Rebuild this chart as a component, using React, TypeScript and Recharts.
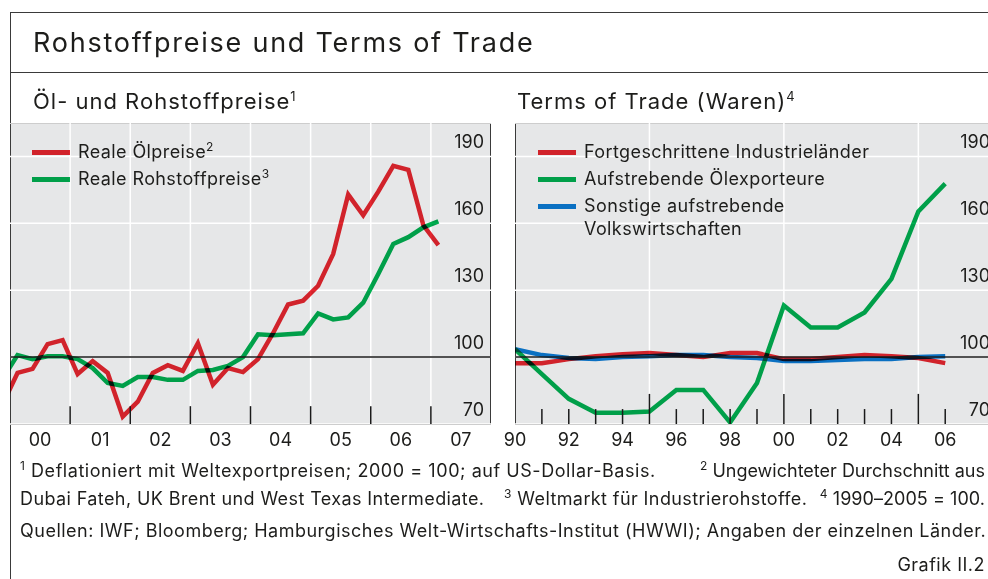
import React from "react";
import { LineChart, Line, XAxis, YAxis, CartesianGrid, ReferenceLine, Legend } from "recharts";

// Öl- und Rohstoffpreise, quarterly (2000 = 100)
const quarters = [
    "1999Q4",
    "2000Q1", "2000Q2", "2000Q3", "2000Q4",
    "2001Q1", "2001Q2", "2001Q3", "2001Q4",
    "2002Q1", "2002Q2", "2002Q3", "2002Q4",
    "2003Q1", "2003Q2", "2003Q3", "2003Q4",
    "2004Q1", "2004Q2", "2004Q3", "2004Q4",
    "2005Q1", "2005Q2", "2005Q3", "2005Q4",
    "2006Q1", "2006Q2", "2006Q3", "2006Q4",
    "2007Q1",
];
const realOilPrices = [
    78.7,
    92.9, 94.7, 105.8, 107.6,
    92.4, 98.2, 92.9, 73.3,
    80.0, 92.9, 96.4, 93.8,
    106.2, 87.6, 95.1, 93.3,
    99.1, 110.7, 123.6, 125.3,
    132.0, 146.2, 172.9, 163.6,
    174.2, 185.8, 184.0, 159.1,
    150.2,
];
const realCommodityPrices = [
    90.2,
    100.9, 99.1, 100.4, 100.4,
    99.1, 95.1, 88.4, 87.1,
    91.1, 91.1, 89.8, 89.8,
    93.8, 94.2, 96.0, 100.0,
    110.2, 109.8, 110.2, 110.7,
    119.6, 116.9, 117.8, 124.4,
    137.3, 150.7, 153.8, 158.2,
    160.9,
];

// Terms of Trade (Waren), annual (1990–2005 = 100)
const years = [1990, 1991, 1992, 1993, 1994, 1995, 1996, 1997, 1998, 1999, 2000, 2001, 2002, 2003, 2004, 2005, 2006];
const advancedEconomies = [97.3, 97.3, 99.1, 100.4, 101.3, 101.8, 100.9, 100.0, 101.8, 101.8, 99.1, 99.1, 100.0, 100.9, 100.4, 99.6, 97.3];
const oilExporters = [103.6, 92.4, 81.3, 75.1, 75.1, 75.6, 85.3, 85.3, 70.7, 88.4, 123.1, 113.3, 113.3, 120.0, 135.1, 165.3, 177.8];
const otherEmerging = [103.6, 100.9, 99.6, 99.1, 100.0, 100.4, 100.9, 100.9, 100.0, 99.6, 98.2, 98.2, 98.7, 99.1, 99.1, 100.0, 100.4];

// axes
const yTicks = [70, 100, 130, 160, 190];
const priceYearLabels = [2000, 2001, 2002, 2003, 2004, 2005, 2006, 2007];
const priceYearBoundaries = [2001, 2002, 2003, 2004, 2005, 2006, 2007];
const totYearLabels = [1990, 1992, 1994, 1996, 1998, 2000, 2002, 2004, 2006];
const totMinorTicks = [1991, 1992, 1993, 1994, 1996, 1997, 1998, 1999, 2001, 2002, 2003, 2004, 2006];
const totMajorTicks = [1995, 2000, 2005];

const FONT = "Inter, 'Liberation Sans', Arial, sans-serif";
const INK = "#1d1d1b";
const FRAME = "#3a3a3a";
const PANEL = "#e6e7e8";
const RED = "#e8262f";
const GREEN = "#00b050";
const BLUE = "#0b7cd6";

const quarterToNumber = (q: string) => Number(q.slice(0, 4)) + (Number(q.slice(5)) - 0.5) / 4;
const yy = (v: number) => String(Math.floor(v) % 100).padStart(2, "0");

const priceData = quarters.map((q, i) => ({
    t: quarterToNumber(q),
    oil: realOilPrices[i],
    commodities: realCommodityPrices[i],
}));

const totData = years.map((y, i) => ({
    year: y,
    advanced: advancedEconomies[i],
    oil: oilExporters[i],
    other: otherEmerging[i],
}));

const YTick = ({ x, y, payload }: any) => (
    <text x={x} y={y - 15} textAnchor="end" dominantBaseline="central" fontSize={18} fill={INK} fontFamily={FONT}>
        {payload.value}
    </text>
);

// legend keeps the series order given in `order` (recharts sorts by name otherwise)
const LegendBox = ({ payload, order, notes }: any) => {
    const items = order.map((k: string) => (payload || []).find((p: any) => p.dataKey === k)).filter(Boolean);
    return (
        <div style={{ fontFamily: FONT, color: INK, fontSize: 18, letterSpacing: 0.4 }}>
            {items.map((p: any) => (
                <div key={p.dataKey} style={{ display: "flex", alignItems: "flex-start", marginBottom: 4 }}>
                    <span style={{ width: 38, height: 5, marginTop: 10, background: p.color, flexShrink: 0, mixBlendMode: "multiply" }} />
                    <span style={{ marginLeft: 8, lineHeight: "23px", whiteSpace: "pre-line" }}>
                        {p.value}
                        {notes[p.dataKey] ? <sup style={{ fontSize: 12, lineHeight: 0 }}>{notes[p.dataKey]}</sup> : null}
                    </span>
                </div>
            ))}
        </div>
    );
};

const abs = (left: number, top: number, extra: React.CSSProperties = {}): React.CSSProperties => ({
    position: "absolute",
    left,
    top,
    ...extra,
});

const foot = (spacing: number, extra: React.CSSProperties = {}): React.CSSProperties => ({
    fontSize: 18,
    lineHeight: 1,
    letterSpacing: spacing,
    whiteSpace: "nowrap",
    ...extra,
});
const Note = ({ n }: { n: string }) => <sup style={{ fontSize: 12, lineHeight: 0 }}>{n}</sup>;

const App = () => {
    return (
        <div style={{ position: "absolute", left: 0, top: 0, width: 988, height: 579, overflow: "hidden", background: "#fff", fontFamily: FONT, color: INK }}>
            <style>{`.blend .recharts-line-curve { mix-blend-mode: multiply; }`}</style>

            {/* frame + header */}
            <div style={abs(10, 12, { width: 1100, height: 700, borderTop: `1.5px solid ${FRAME}`, borderLeft: `1.5px solid ${FRAME}` })} />
            <div style={abs(10, 72, { width: 1100, borderTop: `1.5px solid ${FRAME}` })} />
            <div style={abs(33, 29, { fontSize: 27, lineHeight: 1, letterSpacing: 1.75, whiteSpace: "nowrap" })}>Rohstoffpreise und Terms of Trade</div>
            <div style={abs(33, 90, { fontSize: 22, lineHeight: 1, letterSpacing: 1, whiteSpace: "nowrap" })}>
                Öl- und Rohstoffpreise<sup style={{ fontSize: 13, lineHeight: 0 }}>1</sup>
            </div>
            <div style={abs(517, 90, { fontSize: 22, lineHeight: 1, letterSpacing: 1, whiteSpace: "nowrap" })}>
                Terms of Trade (Waren)<sup style={{ fontSize: 13, lineHeight: 0 }}>4</sup>
            </div>

            {/* left panel */}
            <div style={abs(10, 123, { width: 481, height: 302, boxSizing: "border-box", background: PANEL, border: `1.5px solid ${FRAME}` })} />
            <div className="blend" style={abs(10, 123)}>
                <LineChart width={481} height={340} data={priceData} margin={{ top: 0, right: 0, bottom: 0, left: 0 }}>
                    <CartesianGrid stroke="#fff" strokeWidth={1.5} verticalValues={priceYearBoundaries} />
                    <XAxis
                        dataKey="t"
                        type="number"
                        domain={[2000, 2008]}
                        allowDataOverflow
                        ticks={priceYearLabels.map((y) => y + 0.5)}
                        interval={0}
                        tickFormatter={yy}
                        axisLine={false}
                        tickLine={false}
                        tickSize={0}
                        tickMargin={9}
                        height={39}
                        tick={{ fill: INK, fontSize: 18, fontFamily: FONT }}
                    />
                    <YAxis
                        orientation="right"
                        mirror
                        width={40}
                        domain={[70, 205]}
                        allowDataOverflow
                        ticks={yTicks}
                        interval={0}
                        axisLine={false}
                        tickLine={false}
                        tickSize={0}
                        tickMargin={7}
                        tick={YTick}
                    />
                    <Legend
                        layout="vertical"
                        align="center"
                        verticalAlign="middle"
                        wrapperStyle={{ top: 17, left: 22, width: "auto" }}
                        content={<LegendBox order={["oil", "commodities"]} notes={{ oil: "2", commodities: "3" }} />}
                    />
                    <Line type="linear" dataKey="oil" name="Reale Ölpreise" stroke={RED} strokeWidth={4.5} dot={false} isAnimationActive={false} />
                    <Line type="linear" dataKey="commodities" name="Reale Rohstoffpreise" stroke={GREEN} strokeWidth={4.5} dot={false} isAnimationActive={false} />
                    <ReferenceLine y={100} stroke="#1a1a1a" strokeWidth={1.5} />
                    {priceYearBoundaries.map((yr) => (
                        <ReferenceLine key={yr} segment={[{ x: yr, y: 70 }, { x: yr, y: 78 }]} stroke="#1a1a1a" strokeWidth={1.5} />
                    ))}
                </LineChart>
            </div>

            {/* right panel */}
            <div style={abs(515, 123, { width: 485, height: 302, boxSizing: "border-box", background: PANEL, border: `1.5px solid ${FRAME}` })} />
            <div className="blend" style={abs(495, 123)}>
                <LineChart width={504} height={340} data={totData} margin={{ top: 0, right: 0, bottom: 0, left: 20 }}>
                    <CartesianGrid stroke="#fff" strokeWidth={1.5} verticalValues={totMajorTicks} />
                    <XAxis
                        dataKey="year"
                        type="number"
                        domain={[1990, 2008]}
                        allowDataOverflow
                        ticks={totYearLabels}
                        interval={0}
                        tickFormatter={yy}
                        axisLine={false}
                        tickLine={false}
                        tickSize={0}
                        tickMargin={9}
                        height={39}
                        tick={{ fill: INK, fontSize: 18, fontFamily: FONT }}
                    />
                    <YAxis
                        orientation="right"
                        mirror
                        width={40}
                        domain={[70, 205]}
                        allowDataOverflow
                        ticks={yTicks}
                        interval={0}
                        axisLine={false}
                        tickLine={false}
                        tickSize={0}
                        tickMargin={9}
                        tick={YTick}
                    />
                    <Legend
                        layout="vertical"
                        align="center"
                        verticalAlign="middle"
                        wrapperStyle={{ top: 17, left: 43, width: "auto" }}
                        content={<LegendBox order={["advanced", "oil", "other"]} notes={{}} />}
                    />
                    <Line type="linear" dataKey="advanced" name="Fortgeschrittene Industrieländer" stroke={RED} strokeWidth={4.5} dot={false} isAnimationActive={false} />
                    <Line type="linear" dataKey="oil" name="Aufstrebende Ölexporteure" stroke={GREEN} strokeWidth={4.5} dot={false} isAnimationActive={false} />
                    <Line type="linear" dataKey="other" name={"Sonstige aufstrebende\nVolkswirtschaften"} stroke={BLUE} strokeWidth={4.5} dot={false} isAnimationActive={false} />
                    <ReferenceLine y={100} stroke="#1a1a1a" strokeWidth={1.5} />
                    {totMinorTicks.map((yr) => (
                        <ReferenceLine key={yr} segment={[{ x: yr, y: 70 }, { x: yr, y: 76.7 }]} stroke="#1a1a1a" strokeWidth={1.5} />
                    ))}
                    {totMajorTicks.map((yr) => (
                        <ReferenceLine key={yr} segment={[{ x: yr, y: 70 }, { x: yr, y: 83.5 }]} stroke="#1a1a1a" strokeWidth={1.5} />
                    ))}
                </LineChart>
            </div>

            {/* footnotes */}
            <div style={abs(20, 462, foot(0.55))}>
                <Note n="1" /> Deflationiert mit Weltexportpreisen; 2000 = 100; auf US-Dollar-Basis.
            </div>
            <div style={abs(0, 462, foot(0, { width: 985, textAlign: "right" }))}>
                <Note n="2" /> Ungewichteter Durchschnitt aus
            </div>
            <div style={abs(20, 490, foot(0.4))}>Dubai Fateh, UK Brent und West Texas Intermediate.</div>
            <div style={abs(504, 490, foot(0.4))}>
                <Note n="3" /> Weltmarkt für Industrierohstoffe.
            </div>
            <div style={abs(0, 490, foot(0.05, { width: 985, textAlign: "right" }))}>
                <Note n="4" /> 1990–2005 = 100.
            </div>
            <div style={abs(20, 522, foot(0.5))}>
                Quellen: IWF; Bloomberg; Hamburgisches Welt-Wirtschafts-Institut (HWWI); Angaben der einzelnen Länder.
            </div>
            <div style={abs(0, 556, foot(0.5, { width: 985, textAlign: "right" }))}>Grafik II.2</div>
        </div>
    );
};

export default App;
